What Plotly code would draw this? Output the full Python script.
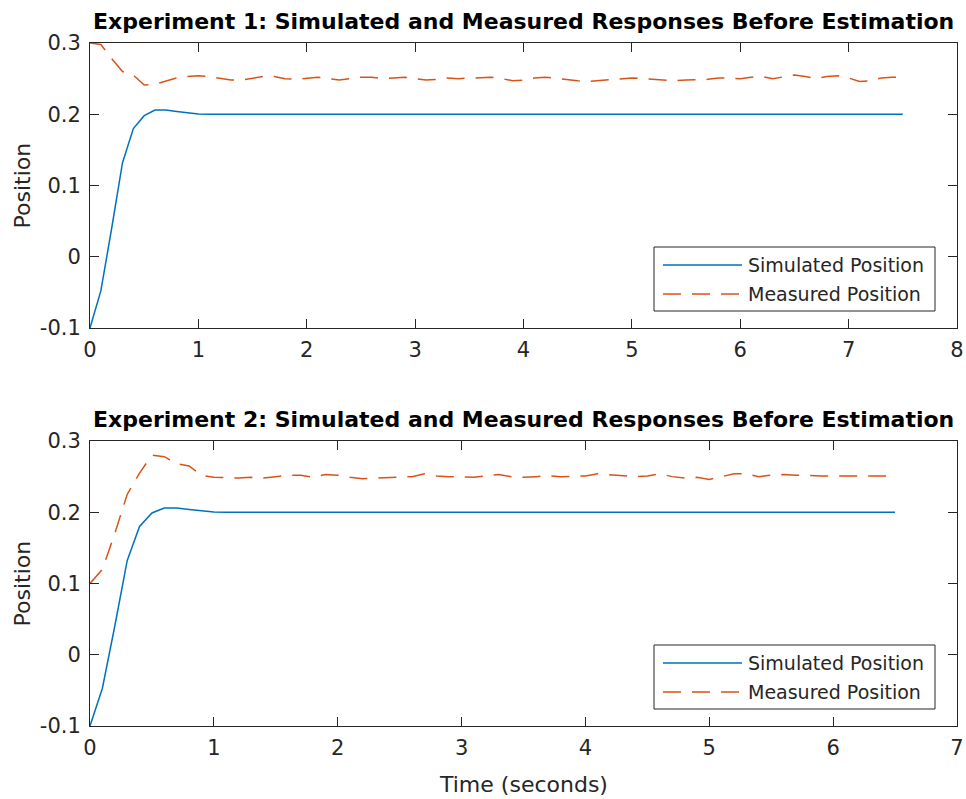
import plotly.graph_objects as go

# ---------------- data ----------------
sim1_t = [0.0, 0.1, 0.2, 0.3, 0.4, 0.5, 0.6, 0.7, 0.8, 0.9, 1.0, 1.1, 1.2, 2.0, 3.0, 4.0, 5.0, 6.0, 7.0, 7.5]
sim1_y = [-0.100, -0.048, 0.040, 0.132, 0.180, 0.198, 0.206, 0.206, 0.204, 0.202, 0.2005, 0.200, 0.200,
          0.200, 0.200, 0.200, 0.200, 0.200, 0.200, 0.200]

meas1_t = [0.0, 0.1, 0.2, 0.3, 0.4, 0.5, 0.6, 0.7, 0.8, 0.9,
           1.0, 1.1, 1.2, 1.3, 1.4, 1.5, 1.6, 1.7, 1.8, 1.9,
           2.0, 2.1, 2.2, 2.3, 2.4, 2.5, 2.6, 2.7, 2.8, 2.9,
           3.0, 3.1, 3.2, 3.3, 3.4, 3.5, 3.6, 3.7, 3.8, 3.9,
           4.0, 4.1, 4.2, 4.3, 4.4, 4.5, 4.6, 4.7, 4.8, 4.9,
           5.0, 5.1, 5.2, 5.3, 5.4, 5.5, 5.6, 5.7, 5.8, 5.9,
           6.0, 6.1, 6.2, 6.3, 6.4, 6.5, 6.6, 6.7, 6.8, 6.9,
           7.0, 7.1, 7.2, 7.3, 7.4, 7.5]
meas1_y = [0.300, 0.298, 0.278, 0.260, 0.255, 0.241, 0.242, 0.246, 0.251, 0.253,
           0.254, 0.253, 0.250, 0.248, 0.248, 0.250, 0.253, 0.253, 0.250, 0.249,
           0.251, 0.252, 0.250, 0.248, 0.250, 0.252, 0.252, 0.250, 0.251, 0.252,
           0.250, 0.248, 0.249, 0.251, 0.250, 0.251, 0.252, 0.252, 0.250, 0.247,
           0.248, 0.251, 0.252, 0.250, 0.248, 0.247, 0.246, 0.247, 0.249, 0.250,
           0.251, 0.250, 0.249, 0.248, 0.247, 0.248, 0.248, 0.249, 0.251, 0.251,
           0.250, 0.252, 0.253, 0.250, 0.252, 0.255, 0.253, 0.250, 0.253, 0.254,
           0.251, 0.246, 0.247, 0.251, 0.252, 0.252]

sim2_t = [0.0, 0.1, 0.2, 0.3, 0.4, 0.5, 0.6, 0.7, 0.8, 0.9, 1.0, 1.1, 1.2, 2.0, 3.0, 4.0, 5.0, 6.0, 6.5]
sim2_y = [-0.100, -0.047, 0.040, 0.132, 0.180, 0.199, 0.206, 0.206, 0.204, 0.202, 0.2005, 0.200, 0.200,
          0.200, 0.200, 0.200, 0.200, 0.200, 0.200]

meas2_t = [0.0, 0.1, 0.2, 0.3, 0.4, 0.5, 0.6, 0.7, 0.8, 0.9,
           1.0, 1.1, 1.2, 1.3, 1.4, 1.5, 1.6, 1.7, 1.8, 1.9,
           2.0, 2.1, 2.2, 2.3, 2.4, 2.5, 2.6, 2.7, 2.8, 2.9,
           3.0, 3.1, 3.2, 3.3, 3.4, 3.5, 3.6, 3.7, 3.8, 3.9,
           4.0, 4.1, 4.2, 4.3, 4.4, 4.5, 4.6, 4.7, 4.8, 4.9,
           5.0, 5.1, 5.2, 5.3, 5.4, 5.5, 5.6, 5.7, 5.8, 5.9,
           6.0, 6.1, 6.2, 6.3, 6.4, 6.5]
meas2_y = [0.100, 0.120, 0.170, 0.225, 0.255, 0.280, 0.278, 0.268, 0.265, 0.252,
           0.249, 0.248, 0.248, 0.249, 0.248, 0.250, 0.252, 0.252, 0.249, 0.253,
           0.252, 0.249, 0.247, 0.248, 0.249, 0.249, 0.250, 0.254, 0.251, 0.250,
           0.249, 0.249, 0.251, 0.253, 0.250, 0.249, 0.250, 0.251, 0.250, 0.250,
           0.251, 0.254, 0.253, 0.252, 0.250, 0.251, 0.254, 0.250, 0.248, 0.249,
           0.246, 0.250, 0.254, 0.254, 0.250, 0.252, 0.253, 0.252, 0.251, 0.251,
           0.251, 0.251, 0.250, 0.251, 0.251, 0.251]

titles = ["Experiment 1: Simulated and Measured Responses Before Estimation",
          "Experiment 2: Simulated and Measured Responses Before Estimation"]
legend_labels = ["Simulated Position", "Measured Position"]
y_label = "Position"
x_label = "Time (seconds)"
x_ticks_top = [0, 1, 2, 3, 4, 5, 6, 7, 8]
x_ticks_bottom = [0, 1, 2, 3, 4, 5, 6, 7]
y_ticks = [-0.1, 0, 0.1, 0.2, 0.3]
y_ticktext = ["-0.1", "0", "0.1", "0.2", "0.3"]

# ---------------- style ----------------
W, H = 966, 799
BLUE = "#0072BD"
ORANGE = "#D95319"
AX = "#262626"
FONT = "DejaVu Sans"
DASH = "18px,11px"

def px_x(p):
    return p / W

def px_y(p):
    return 1 - p / H

plot_left, plot_right = 90, 957
top_y0, top_y1 = 43, 328
bot_y0, bot_y1 = 441, 726

fig = go.Figure()
fig.add_trace(go.Scatter(x=sim1_t, y=sim1_y, mode="lines", name=legend_labels[0],
                         line=dict(color=BLUE, width=1.5), xaxis="x", yaxis="y"))
fig.add_trace(go.Scatter(x=meas1_t, y=meas1_y, mode="lines", name=legend_labels[1],
                         line=dict(color=ORANGE, width=1.5, dash=DASH), xaxis="x", yaxis="y"))
fig.add_trace(go.Scatter(x=sim2_t, y=sim2_y, mode="lines", name=legend_labels[0],
                         line=dict(color=BLUE, width=1.5), xaxis="x2", yaxis="y2"))
fig.add_trace(go.Scatter(x=meas2_t, y=meas2_y, mode="lines", name=legend_labels[1],
                         line=dict(color=ORANGE, width=1.5, dash=DASH), xaxis="x2", yaxis="y2"))

axis_common = dict(showgrid=False, zeroline=False, showline=True, linecolor=AX, linewidth=1,
                   mirror="ticks", ticks="inside", ticklen=9, tickwidth=1, tickcolor=AX,
                   tickfont=dict(family=FONT, size=21, color=AX), automargin=False)

fig.update_layout(
    width=W, height=H,
    margin=dict(l=0, r=0, t=0, b=0),
    paper_bgcolor="white", plot_bgcolor="white",
    showlegend=False,
    xaxis=dict(domain=[px_x(plot_left), px_x(plot_right)], range=[0, 8], anchor="y",
               tickvals=x_ticks_top, ticklabelstandoff=3, **axis_common),
    yaxis=dict(domain=[px_y(top_y1), px_y(top_y0)], range=[-0.1, 0.3], anchor="x",
               tickvals=y_ticks, ticktext=y_ticktext, ticklabelstandoff=4, **axis_common),
    xaxis2=dict(domain=[px_x(plot_left), px_x(plot_right)], range=[0, 7], anchor="y2",
                tickvals=x_ticks_bottom, ticklabelstandoff=3, **axis_common),
    yaxis2=dict(domain=[px_y(bot_y1), px_y(bot_y0)], range=[-0.1, 0.3], anchor="x2",
                tickvals=y_ticks, ticktext=y_ticktext, ticklabelstandoff=4, **axis_common),
)

annotations = []
shapes = []
for i, (py0, py1) in enumerate([(top_y0, top_y1), (bot_y0, bot_y1)]):
    # title
    annotations.append(dict(text=titles[i], xref="paper", yref="paper",
                            x=px_x((plot_left + plot_right) / 2), y=px_y(py0 - 22),
                            xanchor="center", yanchor="middle", showarrow=False,
                            font=dict(family=FONT, size=22, color="black", weight="bold")))
    # y label
    annotations.append(dict(text=y_label, xref="paper", yref="paper",
                            x=px_x(22), y=px_y((py0 + py1) / 2), textangle=-90,
                            xanchor="center", yanchor="middle", showarrow=False,
                            font=dict(family=FONT, size=22, color=AX)))
    # legend box
    off = py0 - top_y0
    bx0, bx1, by0, by1 = 654, 935, 247 + off, 311 + off
    shapes.append(dict(type="rect", xref="paper", yref="paper",
                       x0=px_x(bx0), x1=px_x(bx1), y0=px_y(by1), y1=px_y(by0),
                       line=dict(color=AX, width=1), fillcolor="white", layer="above"))
    for j, (col, dash) in enumerate([(BLUE, "solid"), (ORANGE, DASH)]):
        ly = 265 + off + j * 29
        shapes.append(dict(type="line", xref="paper", yref="paper",
                           x0=px_x(663), x1=px_x(742), y0=px_y(ly), y1=px_y(ly),
                           line=dict(color=col, width=1.5, dash=dash), layer="above"))
        annotations.append(dict(text=legend_labels[j], xref="paper", yref="paper",
                                x=px_x(746), y=px_y(ly), xanchor="left", yanchor="middle",
                                showarrow=False,
                                font=dict(family=FONT, size=19, color=AX)))

annotations.append(dict(text=x_label, xref="paper", yref="paper",
                        x=px_x((plot_left + plot_right) / 2), y=px_y(784),
                        xanchor="center", yanchor="middle", showarrow=False,
                        font=dict(family=FONT, size=22, color=AX)))

fig.update_layout(annotations=annotations, shapes=shapes)

# remove the browser's default page margin so the 966x799 figure fills the window exactly
page_css = ("document.documentElement.style.margin='0';document.documentElement.style.overflow='hidden';"
            "document.body.style.margin='0';document.body.style.padding='0';document.body.style.overflow='hidden';")
fig.write_html("out.html", post_script=page_css, config={"displayModeBar": False})
